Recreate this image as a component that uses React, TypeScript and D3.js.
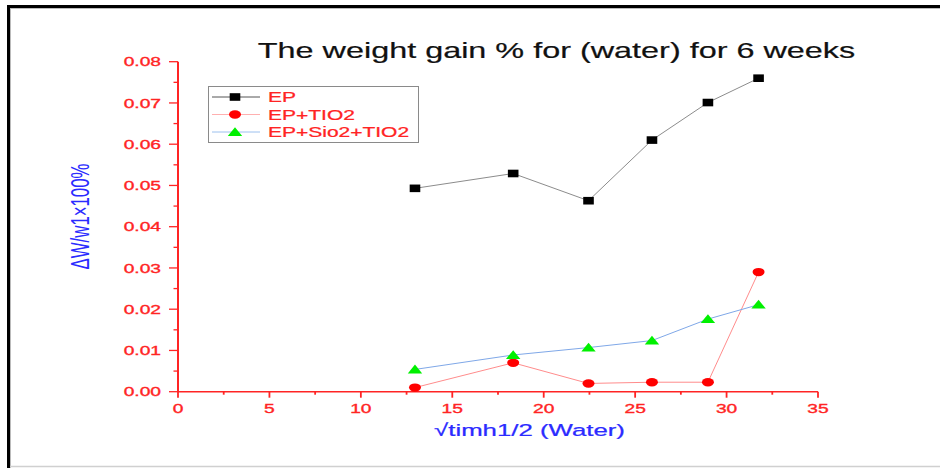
import React from "react";
import * as d3 from "d3";

const sqrtTime = [12.96, 18.33, 22.45, 25.92, 28.98, 31.75];
const epValues = [0.0493, 0.0529, 0.0463, 0.061, 0.0701, 0.076];
const tio2Values = [0.001, 0.007, 0.002, 0.0023, 0.0023, 0.029];
const sio2Tio2Values = [0.0054, 0.0089, 0.0107, 0.0124, 0.0176, 0.0211];
const seriesNames = ["EP", "EP+TIO2", "EP+Sio2+TIO2"];
const xTickValues = [0, 5, 10, 15, 20, 25, 30, 35];
const yTickValues = [0, 0.01, 0.02, 0.03, 0.04, 0.05, 0.06, 0.07, 0.08];
const titleText = "The weight gain % for (water) for 6 weeks";
const xLabel = "\u221Atimh1/2 (Water)";
const yLabel = "\u0394W/w1\u00D7100%";

const SX = 1.5; // horizontal stretch of the original picture
const RED = "#ff2424";
const BLUE = "#2b2bff";
const FONT = "'Liberation Sans', Arial, sans-serif";

type Shape = "square" | "circle" | "triangle";

function Marker({ cx, cy, shape, fill }: { cx: number; cy: number; shape: Shape; fill: string }) {
  if (shape === "square") return <rect x={cx - 5.3} y={cy - 3.8} width={10.6} height={7.6} fill={fill} />;
  if (shape === "circle") return <ellipse cx={cx} cy={cy} rx={6} ry={4.2} fill={fill} />;
  const w = 7.2, h = 8.8;
  return <path d={`M${cx - w},${cy + h * 0.45}L${cx + w},${cy + h * 0.45}L${cx},${cy - h * 0.55}Z`} fill={fill} />;
}

function SText({ x, y, anchor = "start", size, fill, children, sw = 0.35 }: any) {
  return (
    <text transform={`translate(${x},${y}) scale(${SX},1)`} textAnchor={anchor} fontSize={size} fill={fill} stroke={fill} strokeWidth={sw} fontFamily={FONT}>
      {children}
    </text>
  );
}

export default function App() {
  const x = d3.scaleLinear().domain([0, 35]).range([178, 818]);
  const y = d3.scaleLinear().domain([0, 0.08]).range([391.7, 61.7]);
  const fmt = d3.format(".2f");

  const series = [
    { name: seriesNames[0], values: epValues, line: "#8c8c8c", fill: "#000000", shape: "square" as Shape, legLine: "#555555" },
    { name: seriesNames[1], values: tio2Values, line: "#ff8c8c", fill: "#ff0000", shape: "circle" as Shape, legLine: "#ffb0b0" },
    { name: seriesNames[2], values: sio2Tio2Values, line: "#7fa8e8", fill: "#00f000", shape: "triangle" as Shape, legLine: "#9cc0ee" },
  ];

  const lineGen = d3
    .line<[number, number]>()
    .x((d) => x(d[0]))
    .y((d) => y(d[1]));

  const xMinor = xTickValues.slice(0, -1).map((v, i) => (v + xTickValues[i + 1]) / 2);
  const yMinor = yTickValues.slice(0, -1).map((v, i) => (v + yTickValues[i + 1]) / 2);

  const y0 = y(0);
  const x0 = x(0);

  return (
    <svg width={940} height={468} style={{ position: "fixed", left: 0, top: 0, background: "#fff" }}>
      {/* frame */}
      <rect x={0} y={0} width={940} height={468} fill="#ffffff" />
      <line x1={8.5} y1={5} x2={8.5} y2={468} stroke="#000" strokeWidth={3} />
      <line x1={7} y1={6.5} x2={940} y2={6.5} stroke="#000" strokeWidth={3} />
      <line x1={10.5} y1={8} x2={10.5} y2={468} stroke="#bbb" strokeWidth={1} />
      <line x1={10} y1={8.5} x2={940} y2={8.5} stroke="#bbb" strokeWidth={1} />
      <line x1={10} y1={466.5} x2={940} y2={466.5} stroke="#d0d0d0" strokeWidth={1.5} />

      {/* title */}
      <SText x={556.5} y={58} anchor="middle" size={21.6} fill="#111" sw={0.2}>{titleText}</SText>

      {/* series lines */}
      {series.map((s) => (
        <path key={s.name + "l"} d={lineGen(sqrtTime.map((t, i) => [t, s.values[i]] as [number, number])) || ""} fill="none" stroke={s.line} strokeWidth={1} />
      ))}

      {/* axes */}
      <line x1={x0} y1={y(0.08)} x2={x0} y2={y0 + 0.5} stroke={RED} strokeWidth={2} />
      <line x1={x0} y1={y0} x2={x(35)} y2={y0} stroke={RED} strokeWidth={1.6} />
      {yTickValues.map((v) => (
        <g key={"yt" + v}>
          <line x1={x0 - 9} x2={x0} y1={y(v)} y2={y(v)} stroke={RED} strokeWidth={1.3} />
          <SText x={161} y={y(v) + 4.6} anchor="end" size={12.8} fill={RED}>{fmt(v)}</SText>
        </g>
      ))}
      {yMinor.map((v) => (
        <line key={"ym" + v} x1={x0 - 4.5} x2={x0} y1={y(v)} y2={y(v)} stroke={RED} strokeWidth={1.3} />
      ))}
      {xTickValues.map((v) => (
        <g key={"xt" + v}>
          <line x1={x(v)} x2={x(v)} y1={y0} y2={y0 + 6} stroke={RED} strokeWidth={1.8} />
          <SText x={x(v)} y={413} anchor="middle" size={12.8} fill={RED}>{String(v)}</SText>
        </g>
      ))}
      {xMinor.map((v) => (
        <line key={"xm" + v} x1={x(v)} x2={x(v)} y1={y0} y2={y0 + 3} stroke={RED} strokeWidth={1.8} />
      ))}

      {/* axis labels */}
      <SText x={529.5} y={436} anchor="middle" size={17.2} fill={BLUE} sw={0.25}>{xLabel}</SText>
      <text transform={`translate(89,216.5) scale(${SX},1) rotate(-90)`} textAnchor="middle" fontSize={16.8} fill={BLUE} fontFamily={FONT}>
        {yLabel}
      </text>

      {/* markers */}
      {series.map((s) => (
        <g key={s.name + "m"}>
          {sqrtTime.map((t, i) => (
            <Marker key={i} cx={x(t)} cy={y(s.values[i])} shape={s.shape} fill={s.fill} />
          ))}
        </g>
      ))}

      {/* legend */}
      <rect x={208.5} y={86.5} width={210} height={56} fill="#fff" stroke="#8a8a8a" strokeWidth={1} />
      {series.map((s, i) => {
        const ly = 97 + i * 17.5;
        return (
          <g key={s.name + "leg"}>
            <line x1={212} x2={260} y1={ly} y2={ly} stroke={s.legLine} strokeWidth={1} />
            <Marker cx={235} cy={ly} shape={s.shape} fill={s.fill} />
            <SText x={268} y={ly + 5} anchor="start" size={14} fill={RED} sw={0.25}>{s.name}</SText>
          </g>
        );
      })}
    </svg>
  );
}
